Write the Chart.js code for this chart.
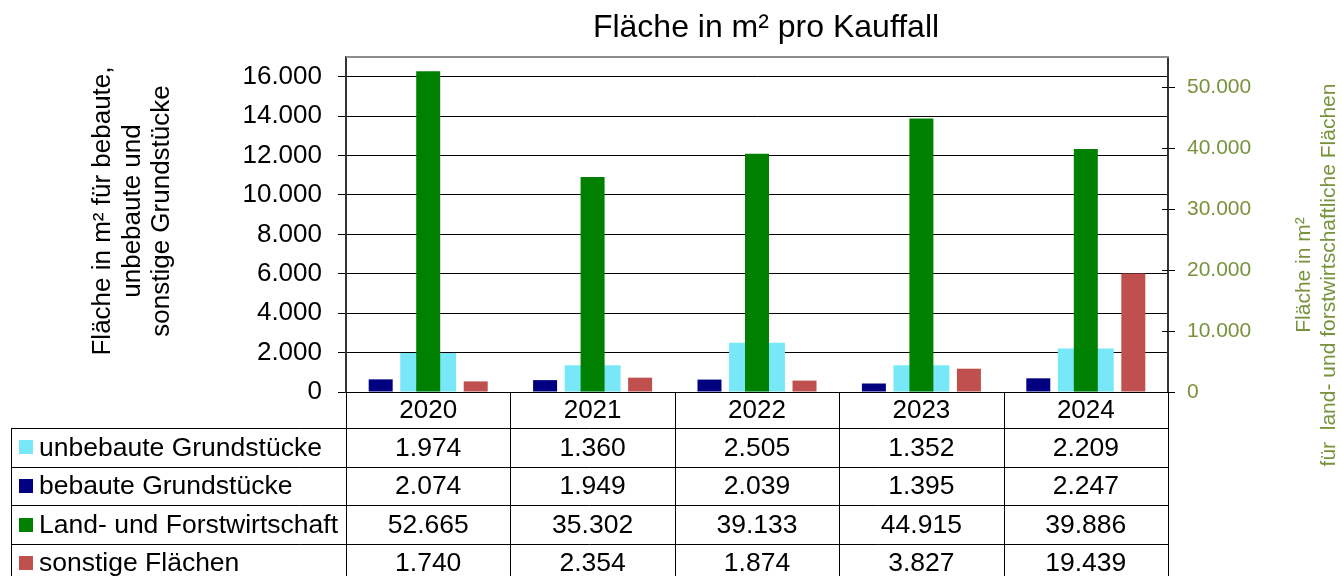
<!DOCTYPE html>
<html>
<head>
<meta charset="utf-8">
<script src="https://cdn.jsdelivr.net/npm/chart.js@4.4.1/dist/chart.umd.min.js"></script>
<style>
  html, body { margin: 0; padding: 0; background: #fff; }
  #wrap { width: 1342px; height: 576px; position: relative; }
</style>
</head>
<body>
<div id="wrap"><canvas id="chart"></canvas></div>
<script>
// data
const years = ['2020', '2021', '2022', '2023', '2024'];
const unbebaute = [1974, 1360, 2505, 1352, 2209];
const bebaute = [2074, 1949, 2039, 1395, 2247];
const landForst = [52665, 35302, 39133, 44915, 39886];
const sonstige = [1740, 2354, 1874, 3827, 19439];

const seriesNames = ['unbebaute Grundstücke', 'bebaute Grundstücke', 'Land- und Forstwirtschaft', 'sonstige Flächen'];
const seriesColors = ['#78E8F8', '#000080', '#008000', '#C0504D'];

const chartTitle = 'Fläche in m² pro Kauffall';
const leftTitle = ['Fläche in m² für bebaute,', 'unbebaute und', 'sonstige Grundstücke'];
const rightTitle = ['Fläche in m²', 'für  land- und forstwirtschaftliche Flächen'];

// axis ticks
const leftTicks = [0, 2000, 4000, 6000, 8000, 10000, 12000, 14000, 16000];
const rightTicks = [0, 10000, 20000, 30000, 40000, 50000];
const leftMax = 17000;
const rightMax = 55000;

const olive = '#77933C';
const FONT = '"Liberation Sans", Arial, sans-serif';
Chart.defaults.font.family = FONT;

const fmt = v => String(v).replace(/\B(?=(\d{3})+(?!\d))/g, '.');

// table rows in the order of the reference
const tableRows = [
  { name: seriesNames[0], color: seriesColors[0], values: unbebaute },
  { name: seriesNames[1], color: seriesColors[1], values: bebaute },
  { name: seriesNames[2], color: seriesColors[2], values: landForst },
  { name: seriesNames[3], color: seriesColors[3], values: sonstige }
];

const extras = {
  id: 'extras',
  afterDraw(chart) {
    const ctx = chart.ctx;
    const a = chart.chartArea;
    const xs = chart.scales.x;
    const y1 = chart.scales.y1;
    ctx.save();

    // title
    ctx.fillStyle = '#000';
    ctx.font = '32px ' + FONT;
    ctx.textAlign = 'center';
    ctx.textBaseline = 'middle';
    ctx.fillText(chartTitle, 766, 28);

    // top border of plot
    ctx.strokeStyle = '#8c8c8c';
    ctx.lineWidth = 2;
    ctx.beginPath();
    ctx.moveTo(a.left, a.top);
    ctx.lineTo(a.right + 1, a.top);
    ctx.stroke();

    // inner part of the right axis ticks
    ctx.strokeStyle = '#000';
    ctx.lineWidth = 1;
    rightTicks.forEach(v => {
      const py = Math.round(y1.getPixelForValue(v)) + 0.5;
      ctx.beginPath();
      ctx.moveTo(a.right - 6, py);
      ctx.lineTo(a.right, py);
      ctx.stroke();
    });

    // left axis title
    ctx.font = '26px ' + FONT;
    ctx.fillStyle = '#000';
    leftTitle.forEach((line, i) => {
      ctx.save();
      ctx.translate(103 + i * 29.5, 211);
      ctx.rotate(-Math.PI / 2);
      ctx.fillText(line, 0, 0);
      ctx.restore();
    });

    // right axis title
    ctx.font = '21px ' + FONT;
    ctx.fillStyle = olive;
    rightTitle.forEach((line, i) => {
      ctx.save();
      ctx.translate(1304 + i * 25, 275);
      ctx.rotate(-Math.PI / 2);
      ctx.fillText(line, 0, 0);
      ctx.restore();
    });

    // data table
    const colW = (a.right - a.left) / years.length;
    const rowTop = 428, rowH = 38.6;
    const tableLeft = 11;
    ctx.strokeStyle = '#000';
    ctx.lineWidth = 1;
    ctx.beginPath();
    for (let r = 0; r <= tableRows.length; r++) {
      const py = Math.round(rowTop + r * rowH) + 0.5;
      ctx.moveTo(tableLeft, py);
      ctx.lineTo(a.right, py);
    }
    ctx.moveTo(tableLeft + 0.5, rowTop);
    ctx.lineTo(tableLeft + 0.5, 576);
    for (let c = 0; c <= years.length; c++) {
      const px = Math.round(a.left + c * colW) + 0.5;
      ctx.moveTo(px, a.bottom);
      ctx.lineTo(px, 576);
    }
    ctx.stroke();

    ctx.font = '26.5px ' + FONT;
    tableRows.forEach((row, r) => {
      const cy = rowTop + r * rowH + rowH / 2;
      ctx.fillStyle = row.color;
      ctx.fillRect(19, Math.round(cy - 7), 14, 14);
      ctx.fillStyle = '#000';
      ctx.textAlign = 'left';
      ctx.fillText(row.name, 39, cy + 1);
      ctx.textAlign = 'center';
      row.values.forEach((v, i) => {
        ctx.fillText(fmt(v), xs.getPixelForValue(i), cy + 1);
      });
    });

    ctx.restore();
  }
};

new Chart(document.getElementById('chart'), {
  type: 'bar',
  data: {
    labels: years,
    datasets: [
      { label: seriesNames[1], data: bebaute, yAxisID: 'y1', backgroundColor: seriesColors[1],
        barPercentage: 0.505, categoryPercentage: 0.867, order: 0 },
      { label: seriesNames[2], data: landForst, yAxisID: 'y1', backgroundColor: seriesColors[2],
        barPercentage: 0.505, categoryPercentage: 0.867, order: 0 },
      { label: seriesNames[3], data: sonstige, yAxisID: 'y1', backgroundColor: seriesColors[3],
        barPercentage: 0.505, categoryPercentage: 0.867, order: 0 },
      { label: seriesNames[0], data: unbebaute, yAxisID: 'y', backgroundColor: seriesColors[0],
        grouped: false, barPercentage: 0.34, categoryPercentage: 1, order: 1 }
    ]
  },
  options: {
    responsive: true,
    maintainAspectRatio: false,
    animation: false,
    layout: { padding: { top: 57, left: 0, right: 0, bottom: 0 } },
    plugins: {
      legend: { display: false },
      title: { display: false },
      tooltip: { enabled: false }
    },
    scales: {
      x: {
        grid: { display: false, drawTicks: false },
        border: { display: true, color: '#000', width: 1 },
        ticks: { color: '#000', font: { size: 26 }, padding: 3, maxRotation: 0 },
        afterFit(s) { s.height = 576 - 392; }
      },
      y: {
        position: 'left',
        min: 0,
        max: leftMax,
        grid: { color: '#000', lineWidth: 1, tickLength: 8 },
        border: { color: '#333', width: 2 },
        ticks: { color: '#000', font: { size: 26 }, padding: 16, callback: v => fmt(v) },
        afterBuildTicks(s) { s.ticks = leftTicks.map(v => ({ value: v })); },
        afterFit(s) { s.width = 346; }
      },
      y1: {
        position: 'right',
        min: 0,
        max: rightMax,
        grid: { drawOnChartArea: false, color: '#000', tickLength: 7 },
        border: { color: '#333', width: 2 },
        ticks: { color: olive, font: { size: 21 }, padding: 12, callback: v => fmt(v) },
        afterBuildTicks(s) { s.ticks = rightTicks.map(v => ({ value: v })); },
        afterFit(s) { s.width = 1342 - 1168; }
      }
    }
  },
  plugins: [extras]
});
</script>
</body>
</html>
